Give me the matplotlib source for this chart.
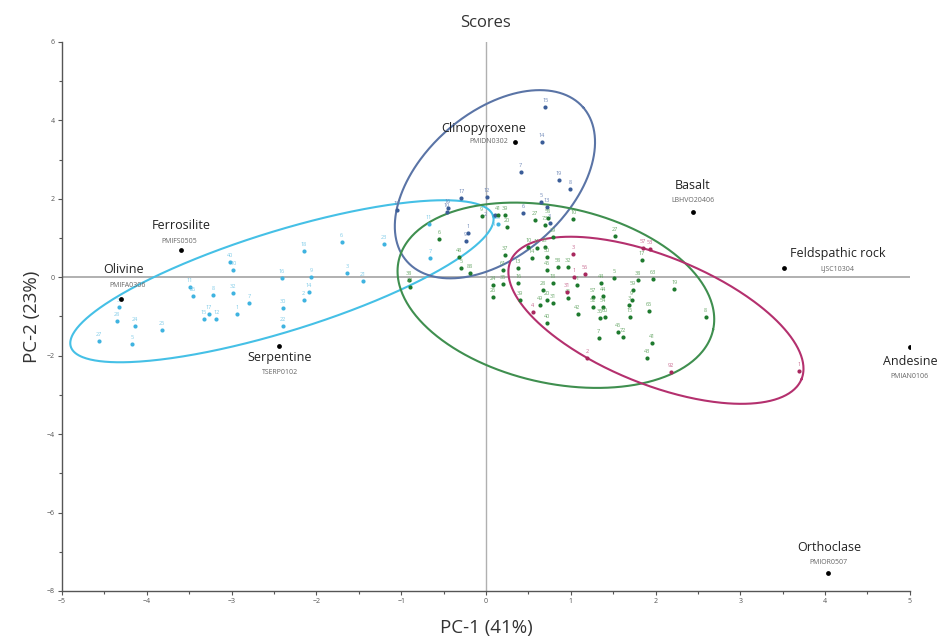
import numpy as np
import matplotlib
matplotlib.use('Agg')
import matplotlib.pyplot as plt

plt.rcParams['font.family'] = ['Open Sans', 'DejaVu Sans']

# reference minerals: name, code, x, y
ref_names = ['Ferrosilite', 'Olivine', 'Serpentine', 'Clinopyroxene', 'Basalt',
             'Feldspathic rock', 'Andesine', 'Orthoclase']
ref_codes = ['PMIFS0505', 'PMIFA0306', 'TSERP0102', 'PMIDN0302', 'LBHVO20406',
             'LJSC10304', 'PMIAN0106', 'PMIOR0507']
ref_x = [-3.60, -4.30, -2.44, 0.34, 2.44, 3.51, 5.00, 4.04]
ref_y = [0.69, -0.56, -1.76, 3.44, 1.66, 0.23, -1.79, -7.55]

# light blue group
lb_lab = ['27', '5', '24', '28', '3', '25', '11', '26', '8', '15', '17', '12', '1', '40', '10',
          '32', '7', '16', '30', '22', '18', '9', '14', '2', '6', '3', '23', '21', '11', '7',
          '20', '4']
lb_x = [-4.56, -4.17, -4.14, -4.35, -4.33, -3.82, -3.49, -3.46, -3.22, -3.33, -3.27, -3.18,
        -2.94, -3.02, -2.98, -2.98, -2.79, -2.41, -2.39, -2.39, -2.15, -2.06, -2.09, -2.15,
        -1.70, -1.64, -1.20, -1.45, -0.67, -0.66, 0.14, 0.09]
lb_y = [-1.63, -1.71, -1.25, -1.12, -0.77, -1.35, -0.26, -0.48, -0.46, -1.07, -0.94, -1.07,
        -0.94, 0.38, 0.18, -0.41, -0.66, -0.03, -0.79, -1.25, 0.66, 0.00, -0.38, -0.59,
        0.89, 0.10, 0.84, -0.10, 1.35, 0.48, 1.35, 1.56]

# dark blue group
db_lab = ['15', '14', '7', '19', '8', '5', '13', '6', '12', '17', '16', '10', '18', '1', '9',
          '3', '2']
db_x = [0.70, 0.66, 0.41, 0.86, 0.99, 0.65, 0.72, 0.44, 0.01, -0.29, -0.45, -0.46, -1.05,
        -0.21, -0.24, 0.75, 0.11]
db_y = [4.34, 3.44, 2.68, 2.47, 2.24, 1.91, 1.79, 1.63, 2.04, 2.02, 1.76, 1.66, 1.71,
        1.12, 0.92, 1.38, 1.58]

# green group
gr_lab = ['38', '24', '6', '48', '88', '5', '9', '41', '39', '20', '37', '61', '13', '24',
          '35', '26', '16', '39', '27', '58', '73', '10', '11', '21', '29', '14', '50', '45',
          '18', '28', '20', '31', '40', '27', '38', '63', '5', '44', '44', '19', '8', '65',
          '59', '9', '3', '15', '57', '52', '54', '36', '60', '7', '45', '72', '41', '43',
          '42', '17', '58', '32', '46', '11', '49', '10']
gr_x = [-0.91, -0.90, -0.55, -0.32, -0.19, -0.29, -0.05, 0.14, 0.22, 0.25, 0.22, 0.20, 0.38,
        0.08, 0.20, 0.08, 0.38, 0.40, 0.58, 0.73, 0.70, 0.50, 0.60, 0.70, 0.79, 0.54, 0.72,
        0.72, 0.79, 0.67, 0.72, 0.79, 0.72, 1.52, 1.79, 1.97, 1.51, 1.36, 1.38, 2.22, 2.59,
        1.92, 1.73, 1.72, 1.69, 1.70, 1.26, 1.26, 1.38, 1.34, 1.40, 1.33, 1.56, 1.62, 1.96,
        1.90, 1.08, 1.84, 0.85, 0.97, 0.97, 1.07, 0.64, 1.03]
gr_y = [-0.08, -0.26, 0.97, 0.51, 0.10, 0.23, 1.56, 1.58, 1.58, 1.28, 0.56, 0.18, 0.23,
        -0.20, -0.18, -0.51, -0.15, -0.59, 1.45, 1.51, 1.33, 0.77, 0.74, 0.77, 1.02, 0.48,
        0.51, 0.18, -0.15, -0.33, -0.59, -0.66, -1.17, 1.05, -0.08, -0.05, -0.03, -0.15,
        -0.48, -0.31, -1.02, -0.87, -0.33, -0.59, -0.71, -1.02, -0.51, -0.77, -0.77, -1.05,
        -1.02, -1.56, -1.40, -1.53, -1.68, -2.07, -0.94, 0.43, 0.26, 0.26, -0.54, -0.20,
        -0.71, 1.48]

# magenta group
mg_lab = ['1', '92', '2', '4', '3', '56', '1', '31', '57', '53']
mg_x = [3.69, 2.18, 1.19, 0.55, 1.03, 1.17, 1.04, 0.96, 1.85, 1.93]
mg_y = [-2.40, -2.42, -2.07, -0.89, 0.59, 0.08, 0.00, -0.38, 0.74, 0.71]

# confidence ellipses: centre and two conjugate semi-axis vectors (data units)
ell_center = [(-2.406, -0.102), (0.106, 2.372), (0.825, -0.459), (2.005, -1.097)]
ell_u = [(2.490, 1.668), (1.041, 1.959), (1.854, -0.882), (1.717, -1.500)]
ell_v = [(-0.174, 1.219), (-0.557, 1.386), (0.223, 2.192), (0.283, 1.513)]
ell_color = ['#45c0e6', '#5a74a6', '#3f8f4f', '#b4306e']

fig = plt.figure(figsize=(9.39, 6.36), dpi=100)
ax = fig.add_axes([0.066, 0.0708, 0.903, 0.8632])
ax.set_xlim(-5, 5)
ax.set_ylim(-8, 6)

ax.axhline(0, color='#b0b0b0', lw=1.4, zorder=1)
ax.axvline(0, color='#b0b0b0', lw=1.0, zorder=1)

t = np.linspace(0, 2 * np.pi, 400)
for c, u, v, col in zip(ell_center, ell_u, ell_v, ell_color):
    ex = c[0] + u[0] * np.cos(t) + v[0] * np.sin(t)
    ey = c[1] + u[1] * np.cos(t) + v[1] * np.sin(t)
    ax.plot(ex, ey, color=col, lw=1.5, zorder=2)

groups = [
    (lb_x, lb_y, lb_lab, '#3fb3e0', '#7fcbe8'),
    (db_x, db_y, db_lab, '#3b5d98', '#6f88b8'),
    (gr_x, gr_y, gr_lab, '#1e7a2e', '#6aa86a'),
    (mg_x, mg_y, mg_lab, '#a8285e', '#c86a90'),
]
# a few crowded labels get pushed aside: (group, index) -> pixel offset
nudge = {(0, 31): (0, -11), (1, 16): (-8, -2)}
for g, (gx, gy, glab, col, lcol) in enumerate(groups):
    ax.scatter(gx, gy, s=9, color=col, zorder=3, linewidths=0)
    for i, (lx, ly, lt) in enumerate(zip(gx, gy, glab)):
        off = nudge.get((g, i), (0, 4))
        ax.annotate(lt, (lx, ly), xytext=off, textcoords='offset pixels',
                    ha='center' if off[0] == 0 else 'right', va='bottom',
                    fontsize=4, color=lcol, zorder=3)

ax.scatter(ref_x, ref_y, s=12, color='black', zorder=4, linewidths=0)

# label offsets in pixels from each reference dot
name_off = [(1, 25), (2, 30), (1, -11), (-31, 14), (0, 27), (6, 15), (0, -14), (1, 26)]
code_off = [(-1, 9), (6, 14), (1, -26), (-7, 1), (0, 12), (54, 0), (0, -29), (0, 11)]
name_ha = ['center', 'center', 'center', 'center', 'center', 'left', 'center', 'center']
code_ha = ['center', 'center', 'center', 'right', 'center', 'center', 'center', 'center']
for i in range(len(ref_names)):
    ax.annotate(ref_names[i], (ref_x[i], ref_y[i]), xytext=name_off[i],
                textcoords='offset pixels', ha=name_ha[i], va='center',
                fontsize=9, color='#222222', annotation_clip=False)
    ax.annotate(ref_codes[i], (ref_x[i], ref_y[i]), xytext=code_off[i],
                textcoords='offset pixels', ha=code_ha[i], va='center',
                fontsize=5, color='#666666', annotation_clip=False)

for s in ['top', 'right']:
    ax.spines[s].set_visible(False)
for s in ['left', 'bottom']:
    ax.spines[s].set_color('#555555')
    ax.spines[s].set_linewidth(1.0)

ax.set_xticks(np.arange(-5, 6, 1))
ax.set_xticks(np.arange(-5, 5.5, 0.5), minor=True)
ax.set_yticks(np.arange(-8, 7, 2))
ax.set_yticks(np.arange(-8, 7, 1), minor=True)
ax.tick_params(which='both', direction='out', length=3, width=0.8, color='#555555',
               labelsize=5, labelcolor='#555555', pad=2)
ax.tick_params(which='minor', length=2)

ax.set_title('Scores', fontsize=12, color='#333333', pad=11)
ax.set_xlabel('PC-1 (41%)', fontsize=13.5, color='#333333', labelpad=10)
ax.set_ylabel('PC-2 (23%)', fontsize=13.5, color='#333333', labelpad=4)

fig.savefig('out.png', dpi=100)
